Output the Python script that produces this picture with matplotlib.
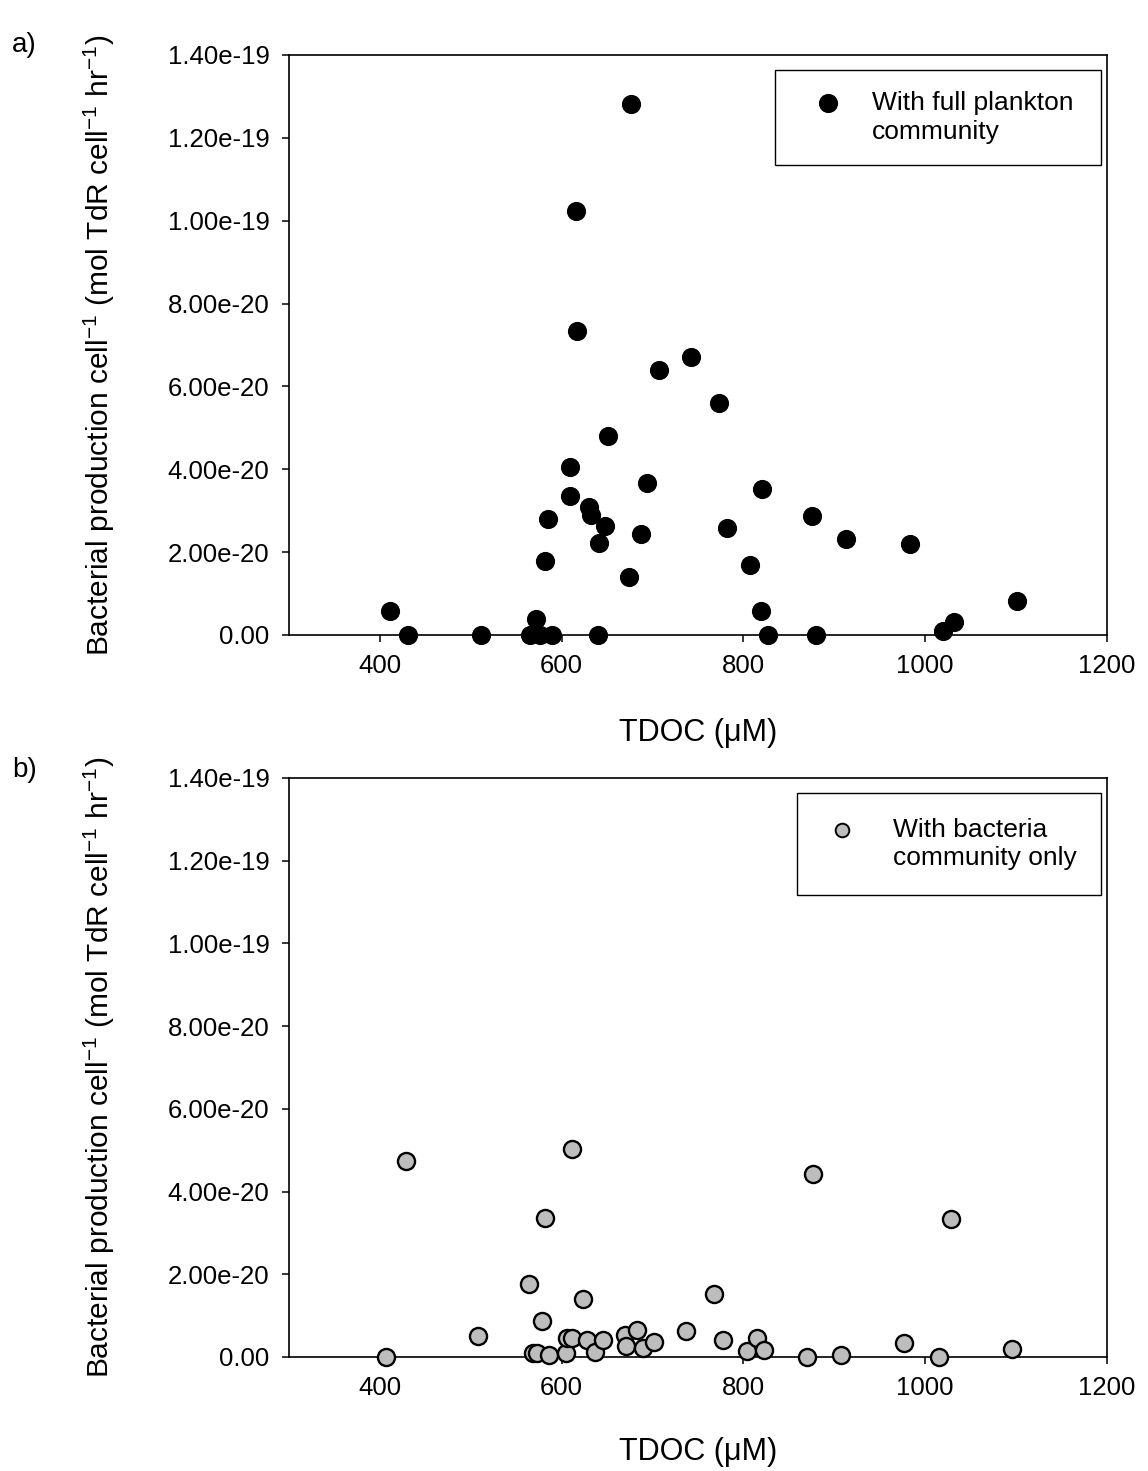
import matplotlib
matplotlib.use("Agg")
import matplotlib.pyplot as plt
from matplotlib.patches import Rectangle
import numpy as np

plt.rcParams['font.family'] = ['Liberation Sans', 'DejaVu Sans']
plt.rcParams['mathtext.fontset'] = 'custom'
plt.rcParams['mathtext.rm'] = 'Liberation Sans'
plt.rcParams['mathtext.it'] = 'Liberation Sans:italic'

# ---- data (TDOC uM, production mol TdR cell-1 hr-1) ----
full_x = [411, 431, 511, 565, 572, 576, 589, 582, 585, 609, 609, 616, 617, 630,
          632, 640, 641, 648, 651, 676, 674, 687, 694, 707, 742, 773, 782, 807,
          820, 819, 827, 880, 875, 913, 983, 1020, 1032, 1101]
full_y = [0.58, 0.0, 0.0, 0.0, 0.39, 0.0, 0.0, 1.79, 2.80, 3.36, 4.06, 10.23, 7.34, 3.09,
          2.90, 0.0, 2.22, 2.63, 4.80, 12.82, 1.40, 2.44, 3.67, 6.40, 6.71, 5.60, 2.58, 1.69,
          3.52, 0.58, 0.0, 0.0, 2.87, 2.32, 2.20, 0.10, 0.31, 0.82]
full_y = [v * 1e-20 for v in full_y]

bact_x = [407, 429, 508, 564, 568, 573, 586, 578, 582, 611, 605, 606, 611, 623,
          628, 637, 645, 670, 671, 683, 689, 702, 737, 768, 777, 804, 815, 823,
          876, 870, 907, 977, 1015, 1028, 1095]
bact_y = [0.0, 4.74, 0.51, 1.77, 0.10, 0.10, 0.05, 0.87, 3.36, 5.03, 0.10, 0.46, 0.46, 1.40,
          0.41, 0.12, 0.41, 0.53, 0.27, 0.65, 0.22, 0.36, 0.63, 1.52, 0.41, 0.15, 0.46, 0.17,
          4.42, 0.0, 0.05, 0.34, 0.0, 3.34, 0.19]
bact_y = [v * 1e-20 for v in bact_y]

xticks = [400, 600, 800, 1000, 1200]
yticks = [0, 2e-20, 4e-20, 6e-20, 8e-20, 1e-19, 1.2e-19, 1.4e-19]
ytick_labels = ["0.00", "2.00e-20", "4.00e-20", "6.00e-20", "8.00e-20",
                "1.00e-19", "1.20e-19", "1.40e-19"]

W, H = 1148, 1471
fig = plt.figure(figsize=(W / 100, H / 100), dpi=100)

def px_axes(l, t, r, b):
    return fig.add_axes([l / W, 1 - b / H, (r - l) / W, (b - t) / H])

ax_a = px_axes(289, 55, 1107, 635)
ax_b = px_axes(289, 778, 1107, 1357)

ylabel = r"Bacterial production cell$^{\mathregular{-1}}$ (mol TdR cell$^{\mathregular{-1}}$ hr$^{\mathregular{-1}}$)"

for ax in (ax_a, ax_b):
    ax.set_xlim(300, 1200)
    ax.set_ylim(0, 1.4e-19)
    ax.set_xticks(xticks)
    ax.set_xticklabels([str(t) for t in xticks])
    ax.set_yticks(yticks)
    ax.set_yticklabels(ytick_labels)
    ax.tick_params(axis='both', direction='out', length=5, width=1.1,
                   labelsize=18.5, pad=9, top=False, right=False)
    for s in ax.spines.values():
        s.set_linewidth(1.2)
    ax.set_xlabel("TDOC (\u03bcM)", fontsize=22)
    ax.set_ylabel(ylabel, fontsize=21.5)
    ax.xaxis.label.set_va('center')
    ax.yaxis.label.set_va('center')
    ax.yaxis.set_label_coords(-0.232, 0.5)

ax_a.xaxis.set_label_coords(0.5, -0.169)
ax_b.xaxis.set_label_coords(0.5, -0.164)

ms = 12.8
ax_a.plot(full_x, full_y, 'o', color='black', markersize=ms, clip_on=False, zorder=3)
ax_b.plot(bact_x, bact_y, 'o', markerfacecolor='#bdbdbd', markeredgecolor='black',
          markeredgewidth=1.7, markersize=ms - 0.5, clip_on=False, zorder=3)

# legends drawn manually in axes coordinates
def legend(ax, x0, y0, x1, y1, mx, my, tx, lines, dy, **mkw):
    ax.add_patch(Rectangle((x0, y0), x1 - x0, y1 - y0, transform=ax.transAxes,
                           fill=False, edgecolor='black', linewidth=1.0, zorder=4))
    ax.plot([mx], [my], 'o', transform=ax.transAxes, zorder=5, clip_on=False, **mkw)
    for i, line in enumerate(lines):
        ax.text(tx, my - i * dy, line, transform=ax.transAxes, fontsize=19,
                va='center', ha='left', zorder=5)

legend(ax_a, 0.594, 0.810, 0.993, 0.974, 0.659, 0.917, 0.713,
       ["With full plankton", "community"], 0.050,
       color='black', markersize=ms)
legend(ax_b, 0.621, 0.798, 0.993, 0.974, 0.676, 0.910, 0.738,
       ["With bacteria", "community only"], 0.048,
       markerfacecolor='#bdbdbd', markeredgecolor='black', markeredgewidth=1.4,
       markersize=ms - 3)

fig.text(12 / W, 1 - 45 / H, "a)", fontsize=20, ha='left', va='center')
fig.text(12 / W, 1 - 770 / H, "b)", fontsize=20, ha='left', va='center')

fig.savefig("out.png", dpi=100)
